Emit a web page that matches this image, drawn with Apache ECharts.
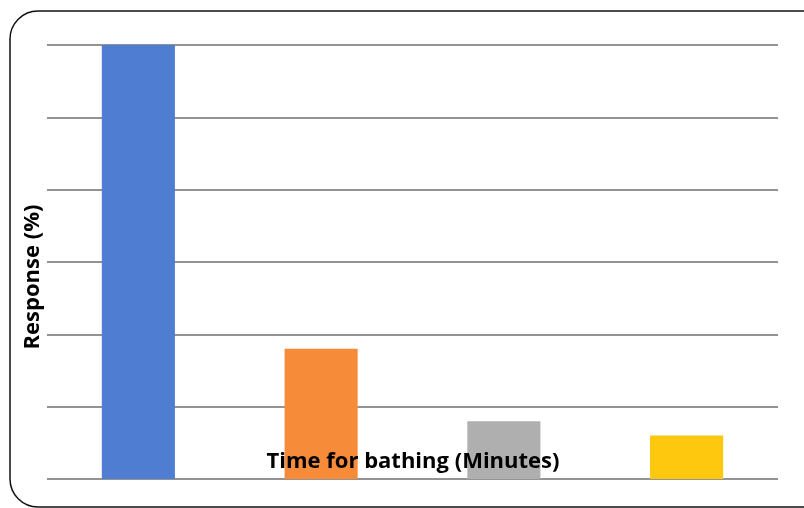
<!DOCTYPE html>
<html><head><meta charset="utf-8">
<script src="https://cdn.jsdelivr.net/npm/echarts@6/dist/echarts.min.js"></script>
<style>html,body{margin:0;padding:0;background:#fff}#c{width:804px;height:508px}</style>
</head><body><div id="c"></div>
<script>
const categories = ['A', 'B', 'C', 'D'];
const values = [60, 18, 8, 6];
const barColors = ['#4E7DD1', '#F68B3A', '#AFAFAF', '#FEC80F'];
const yTitle = 'Response (%)';
const xTitle = 'Time for bathing (Minutes)';

const chart = echarts.init(document.getElementById('c'));
chart.setOption({
  animation: false,
  grid: {left: 47, right: 26, top: 45, bottom: 29},
  xAxis: {
    type: 'category', data: categories,
    axisLine: {show: false}, axisTick: {show: false}, axisLabel: {show: false}
  },
  yAxis: {
    type: 'value', min: 0, max: 60, interval: 10,
    axisLine: {show: false}, axisTick: {show: false}, axisLabel: {show: false},
    splitLine: {lineStyle: {color: '#939393', width: 2}}
  },
  series: [{
    type: 'bar', barWidth: '40%',
    data: values.map((v, i) => ({value: v, itemStyle: {color: barColors[i]}}))
  }],
  graphic: [
    {type: 'rect', shape: {x: 10, y: 11, width: 820, height: 496, r: 28},
     style: {fill: 'none', stroke: '#111', lineWidth: 1.5}, z: 100},
    {type: 'text', x: 413, y: 462, z: 100,
     style: {text: xTitle, font: 'bold 22px "Open Sans"', fill: '#000', align: 'center', verticalAlign: 'middle'}},
    {type: 'text', x: 33, y: 277, rotation: Math.PI / 2, z: 100,
     style: {text: yTitle, font: 'bold 22px "Open Sans"', fill: '#000', align: 'center', verticalAlign: 'middle'}}
  ]
});
</script></body></html>
